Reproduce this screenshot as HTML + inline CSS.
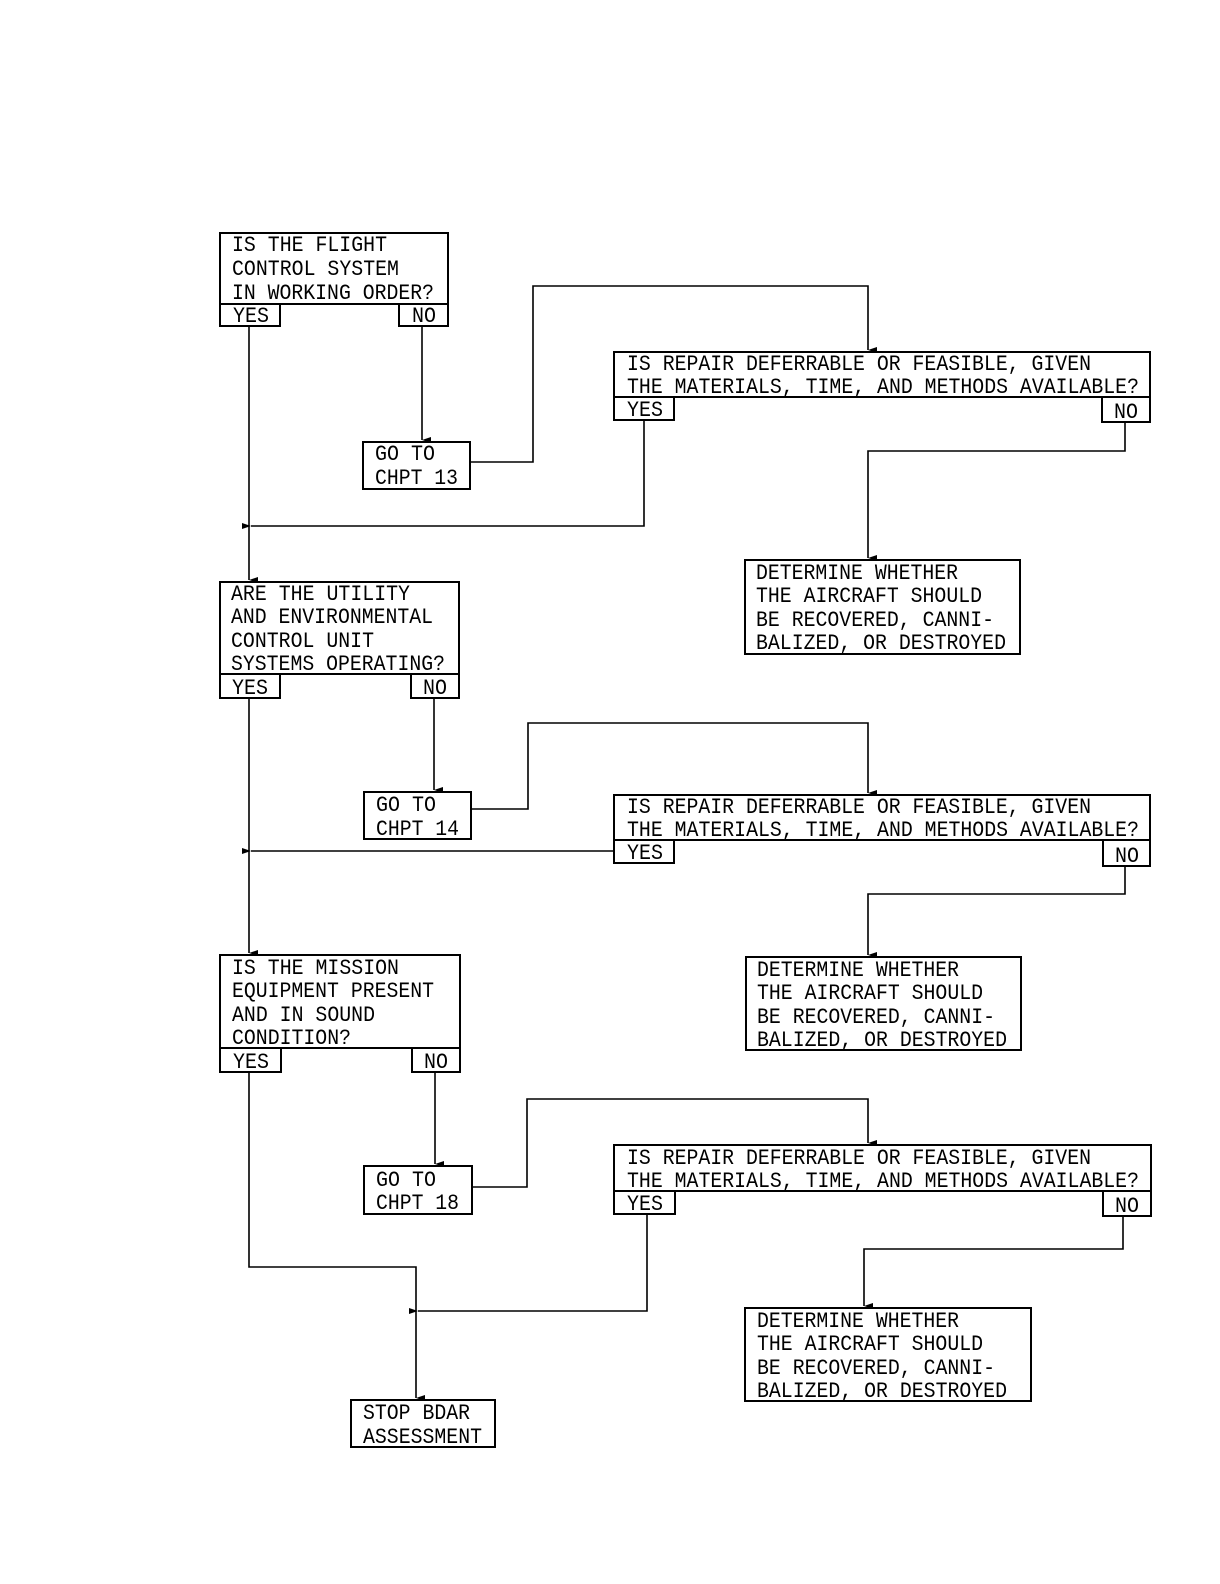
<!DOCTYPE html>
<html><head><meta charset="utf-8"><style>
html,body{margin:0;padding:0;background:#fff}
svg{display:block}
text{font-family:"Liberation Mono",monospace;font-size:22px;fill:#000}
</style></head><body>
<svg width="1220" height="1584" viewBox="0 0 1220 1584" xmlns="http://www.w3.org/2000/svg">
<defs><marker id="a" markerWidth="10" markerHeight="10" refX="5" refY="9" orient="auto" markerUnits="userSpaceOnUse"><path d="M2,0 L5,9 L8,0 Z" fill="#000"/></marker>
<marker id="l" markerWidth="12" markerHeight="10" refX="1" refY="5" orient="auto" markerUnits="userSpaceOnUse"><path d="M10,2 L1,5 L10,8 Z" fill="#000"/></marker></defs>
<g fill="none" stroke="#000" stroke-width="2">
<!-- box1 -->
<rect x="220" y="233" width="228" height="71"/><rect x="220" y="304" width="60" height="22"/><rect x="399" y="304" width="49" height="22"/>
<rect x="363" y="442" width="107" height="47"/>
<rect x="614" y="352" width="536" height="45"/><rect x="614" y="397" width="60" height="23"/><rect x="1102" y="397" width="48" height="25"/>
<rect x="745" y="560" width="275" height="94"/>
<!-- box2 -->
<rect x="220" y="582" width="239" height="92"/><rect x="220" y="674" width="60" height="24"/><rect x="411" y="674" width="48" height="24"/>
<rect x="364" y="792" width="107" height="47"/>
<rect x="614" y="795" width="536" height="45"/><rect x="614" y="840" width="60" height="23"/><rect x="1103" y="840" width="47" height="26"/>
<rect x="746" y="957" width="275" height="93"/>
<!-- box3 -->
<rect x="220" y="955" width="240" height="93"/><rect x="220" y="1048" width="61" height="24"/><rect x="412" y="1048" width="48" height="24"/>
<rect x="364" y="1166" width="108" height="48"/>
<rect x="614" y="1145" width="537" height="46"/><rect x="614" y="1191" width="61" height="23"/><rect x="1103" y="1191" width="48" height="25"/>
<rect x="745" y="1308" width="286" height="93"/>
<rect x="351" y="1400" width="144" height="47"/>
</g>
<g fill="none" stroke="#000" stroke-width="1.6">
<path d="M249 326 V580" marker-end="url(#a)"/>
<path d="M422 326 V440" marker-end="url(#a)"/>
<path d="M470 462 H533 V286 H868 V350" marker-end="url(#a)"/>
<path d="M644 420 V526 H251" marker-end="url(#l)"/>
<path d="M1125 422 V451 H868 V558" marker-end="url(#a)"/>
<path d="M249 698 V953" marker-end="url(#a)"/>
<path d="M434 698 V790" marker-end="url(#a)"/>
<path d="M471 809 H528 V723 H868 V793" marker-end="url(#a)"/>
<path d="M614 851 H251" marker-end="url(#l)"/>
<path d="M1125 866 V894 H868 V955" marker-end="url(#a)"/>
<path d="M249 1072 V1267 H416 V1398" marker-end="url(#a)"/>
<path d="M435 1072 V1164" marker-end="url(#a)"/>
<path d="M472 1187 H527 V1099 H868 V1143" marker-end="url(#a)"/>
<path d="M647 1214 V1311 H418" marker-end="url(#l)"/>
<path d="M1123 1216 V1249 H864 V1306" marker-end="url(#a)"/>
</g>
<g lengthAdjust="spacingAndGlyphs">
<text x="232" y="251" textLength="155" lengthAdjust="spacingAndGlyphs">IS THE FLIGHT</text>
<text x="232" y="275" textLength="167" lengthAdjust="spacingAndGlyphs">CONTROL SYSTEM</text>
<text x="232" y="299" textLength="202" lengthAdjust="spacingAndGlyphs">IN WORKING ORDER?</text>
<text x="233" y="322" textLength="36" lengthAdjust="spacingAndGlyphs">YES</text>
<text x="412" y="322" textLength="24" lengthAdjust="spacingAndGlyphs">NO</text>
<text x="375" y="460" textLength="60" lengthAdjust="spacingAndGlyphs">GO TO</text>
<text x="375" y="484" textLength="83" lengthAdjust="spacingAndGlyphs">CHPT 13</text>
<text x="627" y="370" textLength="464" lengthAdjust="spacingAndGlyphs">IS REPAIR DEFERRABLE OR FEASIBLE, GIVEN</text>
<text x="627" y="393" textLength="512" lengthAdjust="spacingAndGlyphs">THE MATERIALS, TIME, AND METHODS AVAILABLE?</text>
<text x="627" y="416" textLength="36" lengthAdjust="spacingAndGlyphs">YES</text>
<text x="1114" y="418" textLength="24" lengthAdjust="spacingAndGlyphs">NO</text>
<text x="756" y="579" textLength="202" lengthAdjust="spacingAndGlyphs">DETERMINE WHETHER</text>
<text x="756" y="602" textLength="226" lengthAdjust="spacingAndGlyphs">THE AIRCRAFT SHOULD</text>
<text x="756" y="626" textLength="238" lengthAdjust="spacingAndGlyphs">BE RECOVERED, CANNI-</text>
<text x="756" y="649" textLength="250" lengthAdjust="spacingAndGlyphs">BALIZED, OR DESTROYED</text>

<text x="231" y="600" textLength="179" lengthAdjust="spacingAndGlyphs">ARE THE UTILITY</text>
<text x="231" y="623" textLength="202" lengthAdjust="spacingAndGlyphs">AND ENVIRONMENTAL</text>
<text x="231" y="647" textLength="143" lengthAdjust="spacingAndGlyphs">CONTROL UNIT</text>
<text x="231" y="670" textLength="214" lengthAdjust="spacingAndGlyphs">SYSTEMS OPERATING?</text>
<text x="232" y="694" textLength="36" lengthAdjust="spacingAndGlyphs">YES</text>
<text x="423" y="694" textLength="24" lengthAdjust="spacingAndGlyphs">NO</text>
<text x="376" y="811" textLength="60" lengthAdjust="spacingAndGlyphs">GO TO</text>
<text x="376" y="835" textLength="83" lengthAdjust="spacingAndGlyphs">CHPT 14</text>
<text x="627" y="813" textLength="464" lengthAdjust="spacingAndGlyphs">IS REPAIR DEFERRABLE OR FEASIBLE, GIVEN</text>
<text x="627" y="836" textLength="512" lengthAdjust="spacingAndGlyphs">THE MATERIALS, TIME, AND METHODS AVAILABLE?</text>
<text x="627" y="859" textLength="36" lengthAdjust="spacingAndGlyphs">YES</text>
<text x="1115" y="862" textLength="24" lengthAdjust="spacingAndGlyphs">NO</text>
<text x="757" y="976" textLength="202" lengthAdjust="spacingAndGlyphs">DETERMINE WHETHER</text>
<text x="757" y="999" textLength="226" lengthAdjust="spacingAndGlyphs">THE AIRCRAFT SHOULD</text>
<text x="757" y="1023" textLength="238" lengthAdjust="spacingAndGlyphs">BE RECOVERED, CANNI-</text>
<text x="757" y="1046" textLength="250" lengthAdjust="spacingAndGlyphs">BALIZED, OR DESTROYED</text>

<text x="232" y="974" textLength="167" lengthAdjust="spacingAndGlyphs">IS THE MISSION</text>
<text x="232" y="997" textLength="202" lengthAdjust="spacingAndGlyphs">EQUIPMENT PRESENT</text>
<text x="232" y="1021" textLength="143" lengthAdjust="spacingAndGlyphs">AND IN SOUND</text>
<text x="232" y="1044" textLength="119" lengthAdjust="spacingAndGlyphs">CONDITION?</text>
<text x="233" y="1068" textLength="36" lengthAdjust="spacingAndGlyphs">YES</text>
<text x="424" y="1068" textLength="24" lengthAdjust="spacingAndGlyphs">NO</text>
<text x="376" y="1186" textLength="60" lengthAdjust="spacingAndGlyphs">GO TO</text>
<text x="376" y="1209" textLength="83" lengthAdjust="spacingAndGlyphs">CHPT 18</text>
<text x="627" y="1164" textLength="464" lengthAdjust="spacingAndGlyphs">IS REPAIR DEFERRABLE OR FEASIBLE, GIVEN</text>
<text x="627" y="1187" textLength="512" lengthAdjust="spacingAndGlyphs">THE MATERIALS, TIME, AND METHODS AVAILABLE?</text>
<text x="627" y="1210" textLength="36" lengthAdjust="spacingAndGlyphs">YES</text>
<text x="1115" y="1212" textLength="24" lengthAdjust="spacingAndGlyphs">NO</text>
<text x="757" y="1327" textLength="202" lengthAdjust="spacingAndGlyphs">DETERMINE WHETHER</text>
<text x="757" y="1350" textLength="226" lengthAdjust="spacingAndGlyphs">THE AIRCRAFT SHOULD</text>
<text x="757" y="1374" textLength="238" lengthAdjust="spacingAndGlyphs">BE RECOVERED, CANNI-</text>
<text x="757" y="1397" textLength="250" lengthAdjust="spacingAndGlyphs">BALIZED, OR DESTROYED</text>
<text x="363" y="1419" textLength="107" lengthAdjust="spacingAndGlyphs">STOP BDAR</text>
<text x="363" y="1443" textLength="119" lengthAdjust="spacingAndGlyphs">ASSESSMENT</text>
</g>
</svg>
</body></html>
